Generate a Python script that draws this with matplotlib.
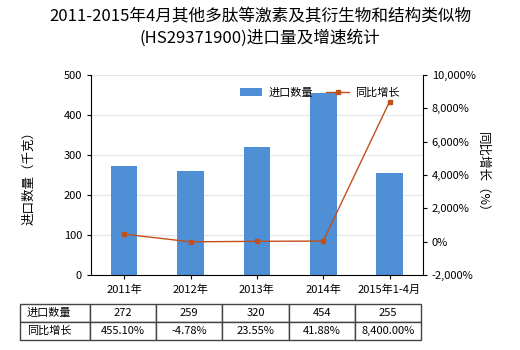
import matplotlib.pyplot as plt
from matplotlib.ticker import FuncFormatter

plt.rcParams['font.family'] = ['Noto Sans CJK SC', 'DejaVu Sans']

years = ['2011年', '2012年', '2013年', '2014年', '2015年1-4月']
qty = [272, 259, 320, 454, 255]
growth = [455.10, -4.78, 23.55, 41.88, 8400.00]
qty_text = ['272', '259', '320', '454', '255']
growth_text = ['455.10%', '-4.78%', '23.55%', '41.88%', '8,400.00%']

fig = plt.figure(figsize=(5.2, 3.5), dpi=100)
ax = fig.add_axes([0.175, 0.214, 0.638, 0.572])
x = range(len(years))
ax.bar(x, qty, width=0.4, color='#4f8fd6', label='进口数量', zorder=2)
ax.set_ylim(0, 500)
ax.set_xlim(-0.5, 4.5)
ax.set_yticks(range(0, 501, 100))
ax.set_xticks(list(x))
ax.set_xticklabels(years)
ax.grid(axis='y', color='#e3e6e8', linewidth=0.8, zorder=0)
for s in ['top', 'right']:
    ax.spines[s].set_visible(False)
ax.tick_params(labelsize=8, length=3)
ax.set_ylabel('进口数量（千克）', fontsize=9, labelpad=20)

ax2 = ax.twinx()
ax2.plot(x, growth, color='#c0501a', linewidth=1, marker='s', markersize=3, label='同比增长')
ax2.set_ylim(-2000, 10000)
ax2.set_yticks(range(-2000, 10001, 2000))
ax2.yaxis.set_major_formatter(FuncFormatter(lambda v, p: f'{v:,.0f}%'))
ax2.tick_params(labelsize=8, length=3)
for s in ['top', 'left', 'bottom']:
    ax2.spines[s].set_visible(False)
ax2.set_ylabel('同比增长（%）', fontsize=9, rotation=270, labelpad=10)

h1, l1 = ax.get_legend_handles_labels()
h2, l2 = ax2.get_legend_handles_labels()
fig.legend(h1 + h2, l1 + l2, loc='center', ncol=2,
           frameon=False, fontsize=8, handlelength=2.0, columnspacing=1.2,
           handletextpad=0.6,
           bbox_to_anchor=(0.615, 0.735), bbox_transform=fig.transFigure)

fig.suptitle('2011-2015年4月其他多肽等激素及其衍生物和结构类似物\n(HS29371900)进口量及增速统计',
             fontsize=12, y=0.975, linespacing=1.25)

# data table under the chart
tax = fig.add_axes([0.0385, 0.0286, 0.771, 0.103])
tax.axis('off')
cells = [['进口数量'] + qty_text, ['同比增长'] + growth_text]
tbl = tax.table(cellText=cells, bbox=[0, 0, 1, 1],
                colWidths=[70] + [66.2] * 5, cellLoc='center')
tbl.auto_set_font_size(False)
for (r, c), cell in tbl.get_celld().items():
    cell.set_fontsize(8)
    cell.set_edgecolor('#444444')
    cell.set_linewidth(1)
    if c == 0:
        cell.set_text_props(ha='left')
        cell._loc = 'left'

fig.savefig('out.png', dpi=100)
